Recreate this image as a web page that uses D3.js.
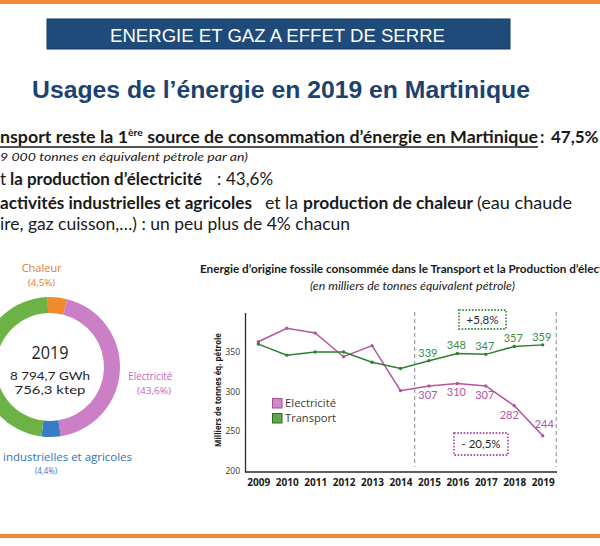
<!DOCTYPE html>
<html><head><meta charset="utf-8">
<script src="https://cdn.jsdelivr.net/npm/d3@7"></script>
<style>body{margin:0;background:#fff;overflow:hidden}svg{display:block}</style>
</head><body>
<script>
// ---------- data ----------
const headerText = "ENERGIE ET GAZ A EFFET DE SERRE";
const titleText = "Usages de l’énergie en 2019 en Martinique";
const donutCategories = ["Chaleur", "Electricité", "industrielles et agricoles", "Transport"];
const donutShares = [4.5, 43.6, 4.4, 47.5];
const donutShareLabels = ["(4,5%)", "(43,6%)", "(4,4%)", "(47,5%)"];
const donutCenterLines = ["2019", "8 794,7 GWh", "756,3 ktep"];
const chartTitle = "Energie d’origine fossile consommée dans le Transport et la Production d’électricité";
const chartSubtitle = "(en milliers de tonnes équivalent pétrole)";
const yAxisTitle = "Milliers de tonnes éq. pétrole";
const years = [2009, 2010, 2011, 2012, 2013, 2014, 2015, 2016, 2017, 2018, 2019];
const electricite = [363, 380, 374, 344, 358, 301, 307, 310, 307, 282, 244];
const transport = [360, 346, 350, 350, 337, 329, 339, 348, 347, 357, 359];
const labelledYears = [2015, 2016, 2017, 2018, 2019];
const yTicks = [200, 250, 300, 350];
const seriesNames = ["Electricité", "Transport"];
const evolutionTransport = "+5,8%";
const evolutionElectricite = "- 20,5%";

// ---------- setup ----------
const W = 600, H = 546;
const svg = d3.select("body").append("svg").attr("width", W).attr("height", H);
const BODY = "Lato, 'Open Sans', sans-serif";
const ARIAL = "'Liberation Sans', Arial, sans-serif";
const UI = "'Open Sans', 'Noto Sans', sans-serif";

function seg(x, y, str, o) {
  const t = svg.append("text").attr("x", x).attr("y", y).text(str)
    .attr("font-family", o.family || BODY).attr("font-size", o.size || 17)
    .attr("font-weight", o.weight || "normal").attr("font-style", o.style || "normal")
    .attr("fill", o.fill || "#1a1a1a");
  if (o.anchor) t.attr("text-anchor", o.anchor);
  if (o.width) t.attr("textLength", o.width).attr("lengthAdjust", "spacingAndGlyphs");
  return t;
}

// orange frame bars
svg.append("rect").attr("x", 0).attr("y", 0).attr("width", W).attr("height", 4).attr("fill", "#f58a32");
svg.append("rect").attr("x", 0).attr("y", 534).attr("width", W).attr("height", 4).attr("fill", "#f58a32");

// header
svg.append("rect").attr("x", 47).attr("y", 19).attr("width", 463).attr("height", 30)
  .attr("fill", "#1e4b7a").attr("stroke", "#173b62").attr("stroke-width", 1);
seg(277.5, 41.5, headerText, {family: ARIAL, size: 18.4, fill: "#ffffff", anchor: "middle", width: 335});

// title
seg(32, 97.5, titleText, {family: ARIAL, size: 24.8, weight: "bold", fill: "#1b4270", width: 498});

// bullet text
const l1 = seg(0, 143, "", {weight: "bold", width: 538});
l1.append("tspan").text("nsport reste la 1");
l1.append("tspan").attr("font-size", 10).attr("dy", -7).text("ère");
l1.append("tspan").attr("dy", 7).text(" source de consommation d’énergie en Martinique");
svg.append("line").attr("x1", 0).attr("x2", 538).attr("y1", 147).attr("y2", 147).attr("stroke", "#1a1a1a").attr("stroke-width", 1.3);
seg(540, 143, ":", {weight: "bold"});
seg(551, 143, "47,5%", {weight: "bold"});
seg(0, 161, "9 000 tonnes en équivalent pétrole par an)", {style: "italic", size: 12, width: 248});
seg(0, 185, "t", {});
seg(10, 185, "la production d’électricité", {weight: "bold", width: 192});
seg(217, 185, ":", {});
seg(226, 185, "43,6%", {width: 47});
seg(0, 209, "activités industrielles et agricoles", {weight: "bold", width: 252});
seg(265, 209, "et la", {width: 33});
seg(303, 209, "production de chaleur", {weight: "bold", width: 170});
seg(477, 209, "(eau chaude", {width: 95});
seg(0, 230, "ire, gaz cuisson,…) : un peu plus de 4% chacun", {width: 350});

// ---------- donut ----------
const donutColors = ["#f08b2c", "#cc7fc6", "#3a7cc3", "#6cb244"];
const labelColors = ["#e07a32", "#c06ab8", "#2f73b5", "#4f9a35"];
const cx = 50, cy = 367;
const pie = d3.pie().sort(null).startAngle(-2 * Math.PI / 180).endAngle(2 * Math.PI - 2 * Math.PI / 180);
const arc = d3.arc().innerRadius(54).outerRadius(70);
const donut = svg.append("g").attr("transform", `translate(${cx},${cy})`);
donut.selectAll("path").data(pie(donutShares)).join("path")
  .attr("d", arc).attr("fill", (d, i) => donutColors[i]);
// center
seg(cx, 359, donutCenterLines[0], {family: UI, size: 19, fill: "#1e1e1e", anchor: "middle", width: 37});
seg(cx, 379.5, donutCenterLines[1], {family: BODY, size: 12, fill: "#1e1e1e", anchor: "middle", width: 80});
seg(cx, 394, donutCenterLines[2], {family: BODY, size: 12, fill: "#1e1e1e", anchor: "middle", width: 71});
// labels
seg(41.7, 271.5, donutCategories[0], {family: UI, size: 10.5, fill: labelColors[0], anchor: "middle", width: 40});
seg(41.5, 286, donutShareLabels[0], {family: UI, size: 9, fill: labelColors[0], anchor: "middle", width: 27});
seg(150.3, 380, donutCategories[1], {family: UI, size: 10.5, fill: labelColors[1], anchor: "middle", width: 44});
seg(154, 393.5, donutShareLabels[1], {family: UI, size: 9, fill: labelColors[1], anchor: "middle", width: 34});
seg(3, 460.5, donutCategories[2], {family: UI, size: 10.5, fill: labelColors[2], width: 129});
seg(46, 474, donutShareLabels[2], {family: UI, size: 9, fill: labelColors[2], anchor: "middle", width: 22});

// ---------- line chart ----------
seg(200, 273, chartTitle, {weight: "bold", size: 10.5, fill: "#1a1a1a", width: 430});
seg(412.5, 290, chartSubtitle, {style: "italic", size: 11, fill: "#1a1a1a", anchor: "middle", width: 205});

const x = d3.scaleLinear().domain([2009, 2019]).range([258.3, 542.7]);
const y = d3.scaleLinear().domain([198, 400]).range([472, 312.5]);
const axisX0 = 245, axisX1 = 557;

// y axis
const gy = svg.append("g").attr("transform", `translate(${axisX0},0)`)
  .call(d3.axisLeft(y).tickValues(yTicks).tickSize(0).tickSizeOuter(0).tickPadding(5));
gy.select(".domain").attr("stroke", "#2a2a2a").attr("stroke-width", 1.3);
gy.selectAll("text").attr("font-family", UI).attr("font-size", 8.5).attr("fill", "#333");

// x axis
const gx = svg.append("g").attr("transform", `translate(0,${y(198)})`)
  .call(d3.axisBottom(x).tickValues(years).tickFormat(d3.format("d")).tickSize(0).tickPadding(6.5));
gx.select(".domain").remove();
gx.selectAll("text").attr("font-family", UI).attr("font-size", 10).attr("font-weight", "bold").attr("fill", "#1a1a1a");
svg.append("line").attr("x1", axisX0).attr("x2", axisX1).attr("y1", y(198)).attr("y2", y(198))
  .attr("stroke", "#2a2a2a").attr("stroke-width", 1.3);

// y axis title
svg.append("text").attr("transform", `translate(220.5,${(333 + 447) / 2}) rotate(-90)`)
  .attr("text-anchor", "middle").attr("font-family", UI).attr("font-size", 8).attr("font-weight", "bold")
  .attr("fill", "#1a1a1a").attr("textLength", 114).attr("lengthAdjust", "spacingAndGlyphs").text(yAxisTitle);

// dashed period separators
[(x(2014) + x(2015)) / 2, x(2019) + 13.5].forEach(px => {
  svg.append("line").attr("x1", px).attr("x2", px).attr("y1", 312).attr("y2", 467)
    .attr("stroke", "#8a8a8a").attr("stroke-width", 1).attr("stroke-dasharray", "4,3");
});

// series
const seriesData = [electricite, transport];
const lineColors = ["#b3559f", "#2f7f34"];
const valueColors = ["#b3559f", "#3b8c3b"];
const line = d3.line().x((d, i) => x(years[i])).y(d => y(d));
seriesData.forEach((vals, s) => {
  svg.append("path").datum(vals).attr("d", line).attr("fill", "none")
    .attr("stroke", lineColors[s]).attr("stroke-width", 1.5);
  svg.append("g").selectAll("circle").data(vals).join("circle")
    .attr("cx", (d, i) => x(years[i])).attr("cy", d => y(d)).attr("r", 1.7).attr("fill", lineColors[s]);
});

// value labels
labelledYears.forEach(yr => {
  const i = years.indexOf(yr);
  svg.append("text").attr("x", x(yr) - 1).attr("y", y(transport[i]) - 8).attr("dy", "0.35em")
    .attr("text-anchor", "middle").attr("font-family", BODY).attr("font-size", 11).attr("fill", valueColors[1])
    .text(transport[i]);
  const below = yr !== 2019;
  svg.append("text").attr("x", x(yr) + (yr === 2018 ? -5 : (yr === 2019 ? 1.5 : -1)))
    .attr("y", y(electricite[i]) + (below ? 9 : -12)).attr("dy", "0.35em")
    .attr("text-anchor", "middle").attr("font-family", BODY).attr("font-size", 11).attr("fill", valueColors[0])
    .text(electricite[i]);
});

// evolution boxes
function evoBox(x0, y0, w, h, color, txt) {
  svg.append("rect").attr("x", x0).attr("y", y0).attr("width", w).attr("height", h)
    .attr("fill", "none").attr("stroke", color).attr("stroke-width", 1.8).attr("stroke-dasharray", "1.6,1.6");
  svg.append("text").attr("x", x0 + w / 2).attr("y", y0 + h / 2).attr("dy", "0.36em")
    .attr("text-anchor", "middle").attr("font-family", BODY).attr("font-size", 11.5).attr("fill", "#2a2a2a").text(txt);
}
evoBox(459, 310, 47, 19, "#3f9a3f", evolutionTransport);
evoBox(454, 433, 54, 22, "#b3559f", evolutionElectricite);

// legend
const legendFill = ["#d08ac8", "#5fa84a"];
const legendStroke = ["#a04f98", "#2f6d2a"];
seriesNames.forEach((name, i) => {
  const ly = 398.5 + i * 15;
  svg.append("rect").attr("x", 272.5).attr("y", ly).attr("width", 9.5).attr("height", 9.5)
    .attr("fill", legendFill[i]).attr("stroke", legendStroke[i]).attr("stroke-width", 1);
  svg.append("text").attr("x", 285).attr("y", ly + 5).attr("dy", "0.35em")
    .attr("font-family", UI).attr("font-size", 11).attr("fill", "#3a3a3a")
    .attr("textLength", 51).attr("lengthAdjust", "spacingAndGlyphs").text(name);
});
</script>
</body></html>
